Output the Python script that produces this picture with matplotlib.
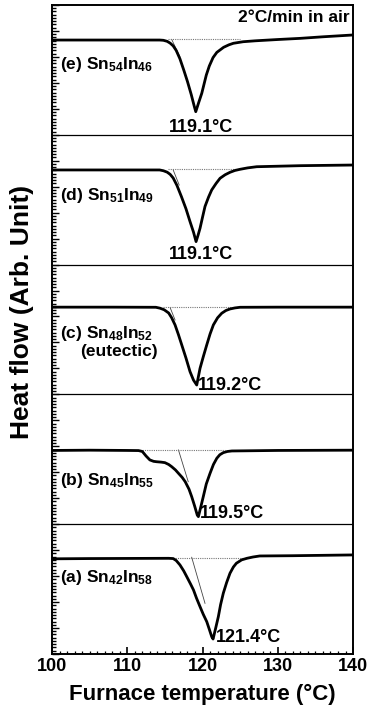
import matplotlib
matplotlib.use("Agg")
import matplotlib.pyplot as plt
from matplotlib.ticker import MultipleLocator

plt.rcParams['font.family'] = ['Liberation Sans', 'DejaVu Sans']
plt.rcParams['font.weight'] = 'bold'
plt.rcParams['mathtext.fontset'] = 'custom'
plt.rcParams['mathtext.rm'] = 'Liberation Sans'
plt.rcParams['mathtext.it'] = 'Liberation Sans'
plt.rcParams['mathtext.bf'] = 'Liberation Sans:bold'

# DSC traces (y in panel units, 0 = panel bottom, 1 = panel top)
# (a) Sn42In58
t_a = [100, 105, 110, 115.5, 116.1, 116.5, 117.0, 117.5, 117.9, 118.4, 118.8, 119.2, 119.67,
       120.1, 120.56, 120.9, 121.22, 121.4, 121.75, 122.1, 122.4, 122.76, 123.2, 123.65, 124.1,
       124.5, 125.2, 125.9, 126.7, 127.6, 132, 136, 140]
h_a = [0.733, 0.735, 0.736, 0.737, 0.735, 0.72, 0.686, 0.64, 0.596, 0.54, 0.493, 0.43, 0.364,
       0.305, 0.249, 0.19, 0.133, 0.115, 0.2, 0.287, 0.38, 0.468, 0.55, 0.622, 0.67,
       0.699, 0.725, 0.737, 0.747, 0.755, 0.757, 0.760, 0.763]
# (b) Sn45In55
t_b = [100, 105, 110, 111.5, 112.0, 112.5, 113.0, 113.5, 113.9, 114.5, 115.0, 115.5, 115.9,
       116.4, 116.8, 117.3, 117.7, 118.2, 118.56, 118.95, 119.3, 119.45, 119.8, 120.1, 120.5,
       121.0, 121.45, 121.9, 122.3, 122.76, 123.3, 123.9, 130, 140]
h_b = [0.568, 0.570, 0.568, 0.567, 0.56, 0.525, 0.495, 0.484, 0.481, 0.478, 0.474, 0.46, 0.443,
       0.418, 0.392, 0.36, 0.327, 0.27, 0.212, 0.14, 0.07, 0.058, 0.14, 0.212, 0.31,
       0.392, 0.46, 0.508, 0.535, 0.551, 0.56, 0.564, 0.568, 0.570]
# (c) Sn48In52 eutectic
t_c = [100, 108, 113.8, 114.35, 114.9, 115.5, 115.9, 116.35, 116.8, 117.24, 117.8, 118.34,
       118.8, 119.23, 119.67, 120.1, 120.56, 121.0, 121.44, 122.0, 122.55, 123.1, 123.65,
       124.3, 124.98, 130, 140]
h_c = [0.672, 0.672, 0.671, 0.664, 0.652, 0.627, 0.59, 0.535, 0.46, 0.381, 0.28, 0.175,
       0.11, 0.072, 0.201, 0.29, 0.381, 0.465, 0.535, 0.59, 0.625, 0.646, 0.658,
       0.666, 0.671, 0.672, 0.672]
# (d) Sn51In49
t_d = [100, 108, 114.3, 114.8, 115.3, 115.7, 116.1, 116.6, 117.2, 117.8, 118.34, 118.8, 119.14,
       119.4, 119.67, 120.0, 120.33, 120.8, 121.22, 121.8, 122.33, 123.0, 123.65, 124.3,
       124.98, 126, 127.2, 133, 140]
h_d = [0.729, 0.729, 0.729, 0.723, 0.712, 0.695, 0.667, 0.61, 0.523, 0.43, 0.331, 0.25, 0.177,
       0.225, 0.28, 0.365, 0.448, 0.52, 0.575, 0.625, 0.665, 0.692, 0.711, 0.725,
       0.734, 0.745, 0.754, 0.762, 0.767]
# (e) Sn54In46
t_e = [100, 108, 114.3, 114.8, 115.3, 115.7, 116.1, 116.5, 117.0, 117.5, 118.0, 118.5, 118.9,
       119.1, 119.5, 119.9, 120.2, 120.5, 120.9, 121.4, 121.9, 122.8, 123.5, 124.1, 125.4,
       127, 130, 133, 136, 140]
h_e = [0.730, 0.730, 0.730, 0.728, 0.72, 0.706, 0.685, 0.65, 0.585, 0.50, 0.41, 0.31, 0.22,
       0.178, 0.25, 0.32, 0.39, 0.46, 0.53, 0.595, 0.635, 0.674, 0.693, 0.705, 0.717,
       0.724, 0.734, 0.743, 0.755, 0.769]

temps = [t_a, t_b, t_c, t_d, t_e]
flows = [h_a, h_b, h_c, h_d, h_e]

# onset tangents and dotted baselines
tang_t = [(118.56, 120.33), (116.8, 118.1), (115.7, 116.35), (116.1, 116.9), (115.9, 117.0)]
tang_h = [(0.745, 0.39), (0.572, 0.327), (0.668, 0.573), (0.729, 0.613), (0.735, 0.60)]
base_t = [(116.1, 125.4), (111.7, 123.0), (114.75, 123.9), (115.4, 124.5), (115.4, 125.0)]
base_h = [0.742, 0.570, 0.670, 0.733, 0.735]

names = [r"(a) Sn$_{42}$In$_{58}$", r"(b) Sn$_{45}$In$_{55}$", r"(c) Sn$_{48}$In$_{52}$",
         r"(d) Sn$_{51}$In$_{49}$", r"(e) Sn$_{54}$In$_{46}$"]
name_h = [0.586, 0.340, 0.470, 0.536, 0.538]
peaks = ["121.4°C", "119.5°C", "119.2°C", "119.1°C", "119.1°C"]
peak_t = [121.8, 119.7, 119.4, 119.85, 119.85]
peak_h = [0.123, 0.086, 0.072, 0.074, 0.055]
peak_ha = ['left', 'left', 'left', 'center', 'center']

fig = plt.figure(figsize=(3.67, 7.13), dpi=100)
ax = fig.add_axes([0.1417, 0.0828, 0.8203, 0.9102])

for i in range(5):
    ax.plot(temps[i], [h + i for h in flows[i]], color='black', lw=2.0, zorder=3,
            solid_joinstyle='round')
    ax.plot(tang_t[i], [h + i for h in tang_h[i]], color='#444444', lw=0.6, zorder=2)
    ax.plot(base_t[i], [base_h[i] + i] * 2, color='#777777', lw=0.8, ls=(0, (1, 1)), zorder=2)
    ax.text(101.0, name_h[i] + i, names[i], fontsize=12.5, fontweight='bold',
            ha='left', va='center')
    ax.text(peak_t[i], peak_h[i] + i, peaks[i], fontsize=13, fontweight='bold',
            ha=peak_ha[i], va='center')
    if i > 0:
        ax.axhline(i, color='black', lw=0.9)

ax.text(108.9, 2.330, "(eutectic)", fontsize=12.5, fontweight='bold', ha='center', va='center')
ax.text(139.6, 4.90, "2°C/min in air", fontsize=12.5, fontweight='bold', ha='right', va='center')

ax.set_xlim(100, 140)
ax.set_ylim(0, 5)
ax.xaxis.set_major_locator(MultipleLocator(10))
ax.xaxis.set_minor_locator(MultipleLocator(1))
ax.yaxis.set_major_locator(MultipleLocator(0.2))
ax.yaxis.set_minor_locator(MultipleLocator(0.025))
ax.tick_params(axis='both', which='both', direction='in', top=False, right=False)
ax.tick_params(axis='x', which='major', length=5, width=1.2, labelsize=13, pad=3)
ax.tick_params(axis='x', which='minor', length=2.5, width=0.9)
ax.tick_params(axis='y', which='major', length=5, width=1.0, labelleft=False)
ax.tick_params(axis='y', which='minor', length=3, width=1.0)
for lab in ax.get_xticklabels():
    lab.set_fontweight('bold')
for sp in ax.spines.values():
    sp.set_linewidth(1.4)

ax.set_xlabel("Furnace temperature (°C)", fontsize=16, fontweight='bold', labelpad=6)
ax.set_ylabel("Heat flow (Arb. Unit)", fontsize=19, fontweight='bold')
ax.yaxis.set_label_coords(-0.06, 0.527)

fig.savefig("out.png", dpi=100)
